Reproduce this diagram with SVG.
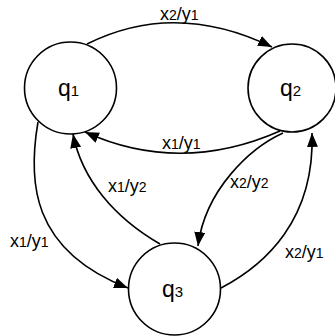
<svg xmlns="http://www.w3.org/2000/svg" width="335" height="336" viewBox="0 0 335 336">
<defs>
<style>
.st{fill:#fff;stroke:#000;stroke-width:1.6}
.e{fill:none;stroke:#000;stroke-width:1.6}
.q{font-family:"Liberation Sans",Arial,sans-serif;font-size:23px;fill:#000}
.qs{font-size:15px}
.l{font-family:"Liberation Sans",Arial,sans-serif;font-size:18px;fill:#000}
.ls{font-size:14px}
</style>
<marker id="ah" markerUnits="userSpaceOnUse" markerWidth="15" markerHeight="12" refX="14" refY="5.5" orient="auto">
<path d="M0,0 L14,5.5 L0,11 z" fill="#000"/>
</marker>
</defs>
<rect width="335" height="336" fill="#fff"/>
<g id="connectors">
<path class="e" d="M87,44 Q175,0 272,47" marker-end="url(#ah)"/>
<path class="e" d="M280,131 Q180,175 85,132" marker-end="url(#ah)"/>
<path class="e" d="M283,133 C250,148 205,190 198,246" marker-end="url(#ah)"/>
<path class="e" d="M221,288 C265,265 315,220 312,133" marker-end="url(#ah)"/>
<path class="e" d="M160,244 C115,218 82,180 73,134" marker-end="url(#ah)"/>
<path class="e" d="M38,122 C28,180 30,250 128,288" marker-end="url(#ah)"/>
</g>
<g id="labels">
<text class="l" x="160" y="20">x<tspan class="ls">2</tspan>/y<tspan class="ls">1</tspan></text>
<text class="l" x="162" y="149">x<tspan class="ls">1</tspan>/y<tspan class="ls">1</tspan></text>
<text class="l" x="230" y="188">x<tspan class="ls">2</tspan>/y<tspan class="ls">2</tspan></text>
<text class="l" x="285" y="258">x<tspan class="ls">2</tspan>/y<tspan class="ls">1</tspan></text>
<text class="l" x="108" y="192">x<tspan class="ls">1</tspan>/y<tspan class="ls">2</tspan></text>
<text class="l" x="10" y="247">x<tspan class="ls">1</tspan>/y<tspan class="ls">1</tspan></text>
</g>
<g id="q1">
<circle class="st" cx="70.5" cy="88" r="46"/>
<text class="q" x="58" y="96">q<tspan class="qs">1</tspan></text>
</g>
<g id="q2">
<circle class="st" cx="292" cy="88" r="44"/>
<text class="q" x="280" y="96">q<tspan class="qs">2</tspan></text>
</g>
<g id="q3">
<circle class="st" cx="174.5" cy="289" r="46"/>
<text class="q" x="162" y="297">q<tspan class="qs">3</tspan></text>
</g>
</svg>
